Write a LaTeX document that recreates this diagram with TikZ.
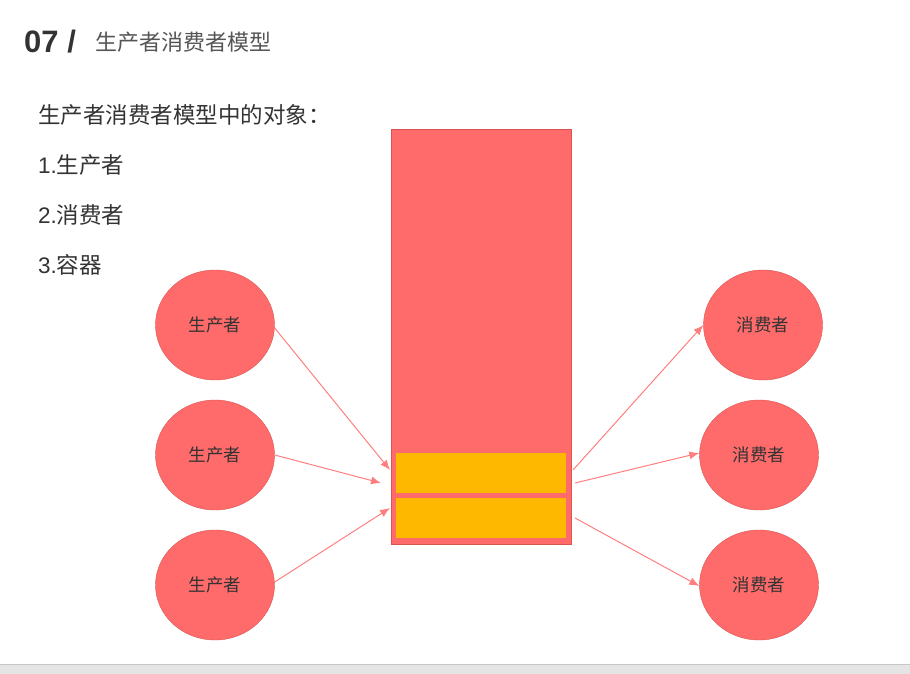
\documentclass[tikz,border=0pt]{standalone}
\usepackage{fontspec}
\setmainfont{Liberation Sans}
\newfontfamily\cjk{Noto Sans CJK SC}
\usetikzlibrary{arrows.meta,shapes.geometric}
\definecolor{boxred}{HTML}{FF6A6A}
\definecolor{edgered}{HTML}{D9534F}
\definecolor{arrowred}{HTML}{FF7F7F}
\definecolor{slotyellow}{HTML}{FFB800}
\definecolor{inktext}{HTML}{333333}
\definecolor{titlegray}{HTML}{555555}
\begin{document}
\begin{tikzpicture}[x=1pt, y=-1pt, >={Latex[length=10pt,width=8pt]},
  role/.style={ellipse, draw=edgered, fill=boxred, minimum width=119pt, minimum height=110pt,
    inner sep=0pt, text=inktext, font=\cjk\fontsize{17.5}{20}\selectfont},
  slot/.style={fill=slotyellow, minimum width=170pt, minimum height=40pt, inner sep=0pt},
  item/.style={anchor=west, inner sep=0pt, text=inktext, font=\fontsize{22.5}{26}\selectfont},
  flow/.style={->, draw=arrowred, line width=1pt}]
  \useasboundingbox (0,0) rectangle (910,674);
  % bottom bar
  \fill[fill=gray!20] (0,664) rectangle (910,674);
  \draw[gray!45] (0,664) -- (910,664);
  % title
  \node[anchor=base west, inner sep=0pt, text=inktext, font=\bfseries\fontsize{31}{34}\selectfont] (num) at (24,53) {07 /};
  \node[anchor=base west, inner sep=0pt, text=titlegray, font=\cjk\fontsize{22}{25}\selectfont] (title) at (95,51) {生产者消费者模型};
  % list
  \node[item] (l0) at (38,115) {\cjk 生产者消费者模型中的对象：};
  \node[item] (l1) at (38,165) {1.{\cjk 生产者}};
  \node[item] (l2) at (38,215) {2.{\cjk 消费者}};
  \node[item] (l3) at (38,265) {3.{\cjk 容器}};
  % container
  \node[draw=edgered, fill=boxred, line width=1pt, minimum width=180pt, minimum height=414pt, inner sep=0pt] (box) at (481,337) {};
  \node[slot] (s1) at (481,473) {};
  \node[slot] (s2) at (481,518) {};
  % producers and consumers
  \node[role] (p1) at (215,325) {生产者};
  \node[role] (p2) at (215,455) {生产者};
  \node[role] (p3) at (215,585) {生产者};
  \node[role] (c1) at (763,325) {消费者};
  \node[role] (c2) at (759,455) {消费者};
  \node[role] (c3) at (759,585) {消费者};
  % ends on the container
  \coordinate (in1) at (390,470);
  \coordinate (in2) at (381,483);
  \coordinate (in3) at (390,508);
  \coordinate (out1) at (573,470);
  \coordinate (out2) at (575,483);
  \coordinate (out3) at (575,518);
  \draw[flow] ([yshift=-3pt]p1.east) -- (in1);
  \draw[flow] (p2.east) -- (in2);
  \draw[flow] ([yshift=3pt]p3.east) -- (in3);
  \draw[flow] (out1) -- (c1.west);
  \draw[flow] (out2) -- ([yshift=2pt]c2.west);
  \draw[flow] (out3) -- ([yshift=-1pt]c3.west);
\end{tikzpicture}
\end{document}
